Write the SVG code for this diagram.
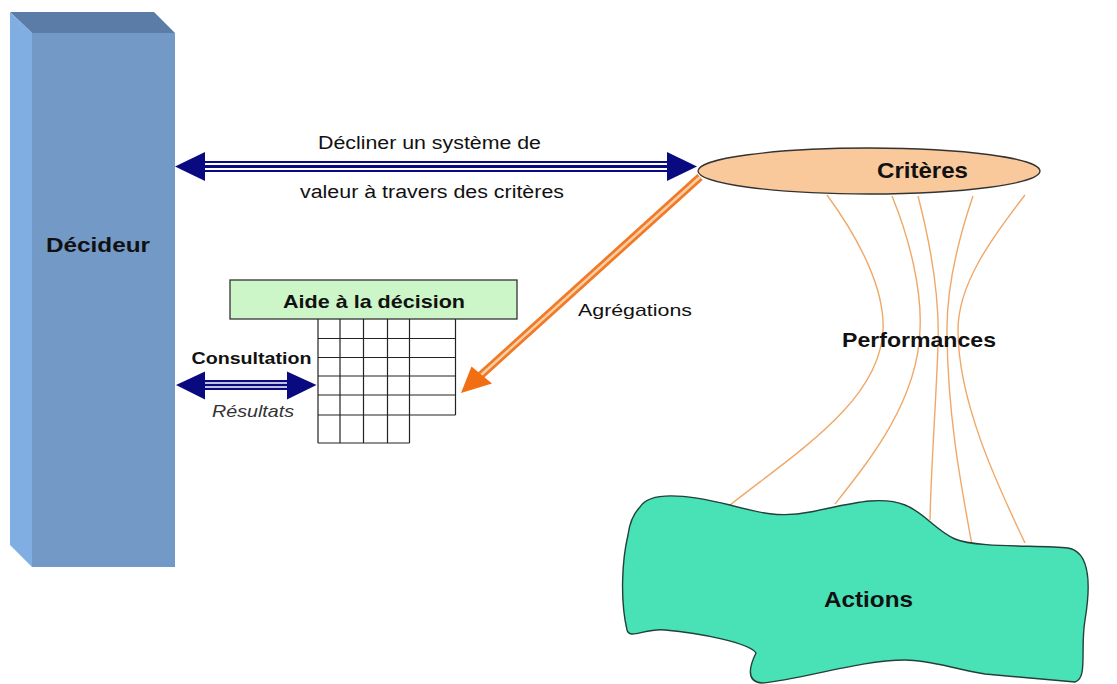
<svg xmlns="http://www.w3.org/2000/svg" width="1117" height="684" viewBox="0 0 1117 684">
<style>
.t{font-family:"Liberation Sans",Arial,sans-serif;fill:#111}
.b{font-weight:bold}
.perf{fill:none;stroke:#F0A868;stroke-width:1.4}
.grid{stroke:#222;stroke-width:1.2;fill:none}
</style>
<rect width="1117" height="684" fill="#fff"/>
<g id="decideur">
<polygon points="32,33 175,33 175,567 32,567" fill="#7399C6"/>
<polygon points="10,12 154,12 175,33 32,33" fill="#5B7CA6"/>
<polygon points="10,12 32,33 32,567 10,545" fill="#80AEE2"/>
<text class="t b" x="98" y="252" font-size="20" text-anchor="middle" textLength="104" lengthAdjust="spacingAndGlyphs">Décideur</text>
</g>
<g id="connectors">
<g id="arrow-valeur">
<rect x="200" y="161" width="470" height="11" fill="#0A0A80"/>
<line x1="200" y1="164" x2="670" y2="164" stroke="#fff" stroke-width="1.8"/>
<line x1="200" y1="169" x2="670" y2="169" stroke="#fff" stroke-width="1.8"/>
<polygon points="175,166.5 205,152 205,181" fill="#0A0A80"/>
<polygon points="697,166.5 667,152 667,181" fill="#0A0A80"/>
</g>
<g id="arrow-consultation">
<rect x="203" y="380" width="86" height="10" fill="#0A0A80"/>
<line x1="203" y1="383" x2="289" y2="383" stroke="#fff" stroke-width="1.6"/>
<line x1="203" y1="387" x2="289" y2="387" stroke="#fff" stroke-width="1.6"/>
<polygon points="176,385 205,371.5 205,399.5" fill="#0A0A80"/>
<polygon points="316.5,385 287,371.5 287,399.5" fill="#0A0A80"/>
</g>
<g id="arrow-agregations">
<line x1="700" y1="177" x2="480" y2="376" stroke="#F07A28" stroke-width="8"/>
<line x1="700" y1="177" x2="480" y2="376" stroke="#FBCFA5" stroke-width="2.5"/>
<polygon points="461,393 471.5,366.5 492,383.5" fill="#F26E12"/>
</g>
<g id="performances-lines">
<path class="perf" d="M827,195 C860,240 885,290 883,330 C880,400 800,450 730,505"/>
<path class="perf" d="M892,196 C910,240 922,290 920,330 C918,400 870,460 835,504"/>
<path class="perf" d="M918,196 C932,250 940,300 938,347 C935,420 931,470 930,520"/>
<path class="perf" d="M973,196 C958,240 946,290 947,335 C948,420 962,490 972,545"/>
<path class="perf" d="M1025,195 C990,240 958,285 958,330 C958,400 995,480 1025,543"/>
</g>
</g>
<g id="criteres">
<ellipse cx="869" cy="171" rx="171" ry="23" fill="#F9C89B" stroke="#333" stroke-width="1.3"/>
<text class="t b" x="922.5" y="178" font-size="22" text-anchor="middle" textLength="91" lengthAdjust="spacingAndGlyphs">Critères</text>
</g>
<g id="aide">
<rect x="230" y="280" width="287" height="39" fill="#CCF5C8" stroke="#333" stroke-width="1.3"/>
<text class="t b" x="374" y="308" font-size="19" text-anchor="middle" textLength="182" lengthAdjust="spacingAndGlyphs">Aide à la décision</text>
<g class="grid">
<path d="M318,319 V443 M340,319 V443 M363.5,319 V443 M387.5,319 V443 M409.5,319 V443 M455.5,319 V415"/>
<path d="M318,338.5 H455.5 M318,357.5 H455.5 M318,376 H455.5 M318,395 H455.5 M318,415 H455.5 M318,443 H409.5"/>
</g>
</g>
<g id="actions">
<path d="M640,507 C650,490 690,495 730,505 C760,513 780,518 810,512 C850,504 880,495 905,505 C925,513 935,530 955,539 C975,548 1040,545 1068,548 C1092,552 1090,590 1085,620 C1080,650 1088,678 1075,682 C1050,680 1010,676 985,674 C950,668 930,660 905,660 C860,660 800,680 762,683 C745,682 750,665 756,653 C750,643 700,633 665,630 C645,628 630,640 627,630 C620,600 622,560 628,535 C630,520 635,512 640,507 Z" fill="#48E2B6" stroke="#23403A" stroke-width="1.4"/>
<text class="t b" x="868.5" y="607" font-size="22" text-anchor="middle" textLength="89" lengthAdjust="spacingAndGlyphs">Actions</text>
</g>
<g id="labels">
<text class="t" x="429.5" y="149" font-size="18" text-anchor="middle" textLength="223" lengthAdjust="spacingAndGlyphs">Décliner un système de</text>
<text class="t" x="432" y="198" font-size="18" text-anchor="middle" textLength="264" lengthAdjust="spacingAndGlyphs">valeur à travers des critères</text>
<text class="t" x="635" y="316" font-size="17" text-anchor="middle" textLength="114" lengthAdjust="spacingAndGlyphs">Agrégations</text>
<text class="t b" x="251.5" y="364" font-size="17" text-anchor="middle" textLength="120" lengthAdjust="spacingAndGlyphs">Consultation</text>
<text class="t" x="253" y="417" font-size="17" font-style="italic" fill="#333" style="fill:#333" text-anchor="middle" textLength="82" lengthAdjust="spacingAndGlyphs">Résultats</text>
<text class="t b" x="919" y="347" font-size="21" text-anchor="middle" textLength="154" lengthAdjust="spacingAndGlyphs">Performances</text>
</g>
</svg>
